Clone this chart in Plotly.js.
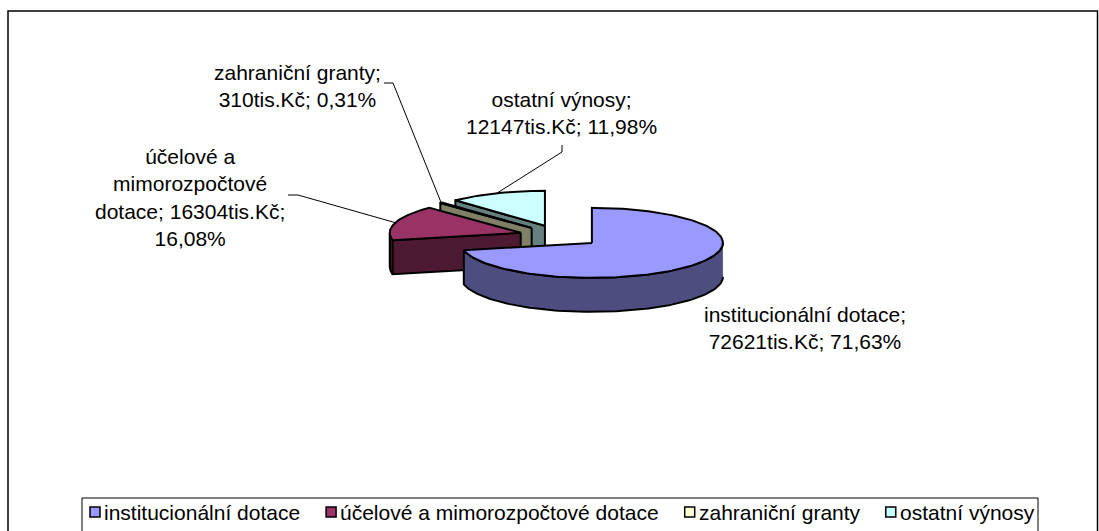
<!DOCTYPE html>
<html>
<head>
<meta charset="utf-8">
<script src="https://cdn.plot.ly/plotly-3.0.1.min.js"></script>
<style>
html,body{margin:0;padding:0;background:#ffffff;}
#chart{width:1099px;height:531px;}
</style>
</head>
<body>
<div id="chart"></div>
<script>
// ---------------- DATA ----------------
const categories = ["institucionální dotace", "účelové a mimorozpočtové dotace", "zahraniční granty", "ostatní výnosy"];
const values = [72621, 16304, 310, 12147];   // tis. Kč
const unitLabel = "tis.Kč";

// ---------------- STYLE ----------------
const topColors  = ["#9999FF", "#993366", "#FFFFCC", "#CCFFFF"];
const sideColors = ["#4D4D80", "#4D1933", "#808066", "#668080"];
const FONT = "Liberation Sans, Arial, sans-serif";
const FONT_SIZE = 21;

// ---------------- LAYOUT (pixel space of the axes) ----------------
const W = 1099, H = 531;
const PIE = {cx: 560, cy: 236, rx: 131, ry: 35, depth: 34, explode: 0.313};
// label anchors and leader elbows
const labelPos = [
  {x: 805, y: 328, leader: null},
  {x: 190, y: 197, leader: [[288, 195], [298, 195]]},
  {x: 297, y: 86,  leader: [[384, 83], [393, 83]]},
  {x: 561, y: 113, leader: [[562, 145], [562, 152]]}
];
const LABEL_WRAP = 215;
const LEGEND = {left: 82, right: 1038, top: 498, bottom: 545, firstKey: 90, lastTextEnd: 1033, yMid: 512, key: 10, keyGap: 3};

// ---------------- helpers ----------------
const canvas = document.createElement("canvas");
const ctx = canvas.getContext("2d");
ctx.font = FONT_SIZE + "px 'Liberation Sans', Arial, sans-serif";
function tw(s){ return ctx.measureText(s).width; }

function wrap(text, maxW){
  const words = text.split(" ");
  const lines = [];
  let cur = "";
  words.forEach(w => {
    const t = cur ? cur + " " + w : w;
    if (cur && tw(t) > maxW) { lines.push(cur); cur = w; }
    else cur = t;
  });
  if (cur) lines.push(cur);
  return lines.join("<br>");
}

const total = values.reduce((a, b) => a + b, 0);
let acc = 0;
const slices = values.map((v, i) => {
  const a0 = acc / total * 360;
  acc += v;
  const a1 = acc / total * 360;
  const m = (a0 + a1) / 2;
  const r = m * Math.PI / 180;
  return {
    i, a0, a1, m,
    cx: PIE.cx + PIE.explode * PIE.rx * Math.sin(r),
    cy: PIE.cy - PIE.explode * PIE.ry * Math.cos(r)
  };
});

function pt(s, deg, dz){
  const r = deg * Math.PI / 180;
  return [s.cx + PIE.rx * Math.sin(r), s.cy - PIE.ry * Math.cos(r) + dz];
}
function arc(s, d0, d1, dz){
  const n = Math.max(2, Math.ceil(Math.abs(d1 - d0) / 1.5));
  const out = [];
  for (let k = 0; k <= n; k++) out.push(pt(s, d0 + (d1 - d0) * k / n, dz));
  return out;
}

const traces = [];
function face(points, color){
  traces.push({
    type: "scatter", mode: "lines",
    x: points.map(p => p[0]), y: points.map(p => p[1]),
    fill: "toself", fillcolor: color,
    line: {color: "#000000", width: 2},
    hoverinfo: "skip", showlegend: false
  });
}

const D = PIE.depth;
const order = slices.slice().sort((a, b) => a.cy - b.cy);
order.forEach(s => {
  const c0 = [s.cx, s.cy], c1 = [s.cx, s.cy + D];
  // outer curved side (front half: 90..270)
  const st = Math.max(s.a0, 90), en = Math.min(s.a1, 270);
  if (en > st) face(arc(s, st, en, 0).concat(arc(s, en, st, D)), sideColors[s.i]);
  // start radial face
  if (s.a0 > 180 && s.a0 < 360) {
    const p0 = pt(s, s.a0, 0), p1 = pt(s, s.a0, D);
    face([c0, p0, p1, c1, c0], sideColors[s.i]);
  }
  // end radial face
  if (s.a1 > 0 && s.a1 < 180) {
    const p0 = pt(s, s.a1, 0), p1 = pt(s, s.a1, D);
    face([c0, p0, p1, c1, c0], sideColors[s.i]);
  }
  // top face
  face([c0].concat(arc(s, s.a0, s.a1, 0)).concat([c0]), topColors[s.i]);
});

// leader lines
slices.forEach(s => {
  const lp = labelPos[s.i];
  if (!lp.leader) return;
  const end = pt(s, s.m, 0);
  const pts = lp.leader.concat([end]);
  traces.push({
    type: "scatter", mode: "lines",
    x: pts.map(p => p[0]), y: pts.map(p => p[1]),
    line: {color: "#000000", width: 1},
    hoverinfo: "skip", showlegend: false
  });
});

// data labels
function fmtPct(v){ return (v / total * 100).toFixed(2).replace(".", ","); }
const annotations = slices.map(s => {
  const txt = categories[s.i] + "; " + values[s.i] + unitLabel + "; " + fmtPct(values[s.i]) + "%";
  return {
    xref: "x", yref: "y", x: labelPos[s.i].x, y: labelPos[s.i].y,
    text: wrap(txt, LABEL_WRAP), showarrow: false,
    xanchor: "center", yanchor: "middle", align: "center",
    font: {family: FONT, size: FONT_SIZE, color: "#000000"}, borderpad: 0
  };
});

// shapes: outer border + legend
const shapes = [
  {type: "rect", xref: "x", yref: "y", x0: 8, y0: 11, x1: 1097.5, y1: 560,
   line: {color: "#000000", width: 1.5}, fillcolor: "rgba(0,0,0,0)", layer: "below"},
  {type: "rect", xref: "x", yref: "y", x0: LEGEND.left, y0: LEGEND.top, x1: LEGEND.right, y1: LEGEND.bottom,
   line: {color: "#000000", width: 1}, fillcolor: "#ffffff", layer: "below"}
];
const widths = categories.map(tw);
const itemsW = widths.reduce((a, b) => a + b, 0) + categories.length * (LEGEND.key + LEGEND.keyGap);
const gap = (LEGEND.lastTextEnd - LEGEND.firstKey - itemsW) / (categories.length - 1);
let xCur = LEGEND.firstKey;
categories.forEach((c, i) => {
  shapes.push({type: "rect", xref: "x", yref: "y",
    x0: xCur, x1: xCur + LEGEND.key,
    y0: LEGEND.yMid - LEGEND.key / 2, y1: LEGEND.yMid + LEGEND.key / 2,
    line: {color: "#000000", width: 1.5}, fillcolor: topColors[i]});
  annotations.push({xref: "x", yref: "y", x: xCur + LEGEND.key + LEGEND.keyGap, y: LEGEND.yMid,
    text: c, showarrow: false, xanchor: "left", yanchor: "middle", borderpad: 0,
    font: {family: FONT, size: FONT_SIZE, color: "#000000"}});
  xCur += LEGEND.key + LEGEND.keyGap + widths[i] + gap;
});

const layout = {
  width: W, height: H,
  margin: {l: 0, r: 0, t: 0, b: 0, pad: 0},
  paper_bgcolor: "#ffffff", plot_bgcolor: "#ffffff",
  xaxis: {range: [0, W], visible: false, fixedrange: true},
  yaxis: {range: [H, 0], visible: false, fixedrange: true},
  showlegend: false,
  shapes, annotations
};

Plotly.newPlot("chart", traces, layout, {displayModeBar: false, staticPlot: true});
</script>
</body>
</html>
